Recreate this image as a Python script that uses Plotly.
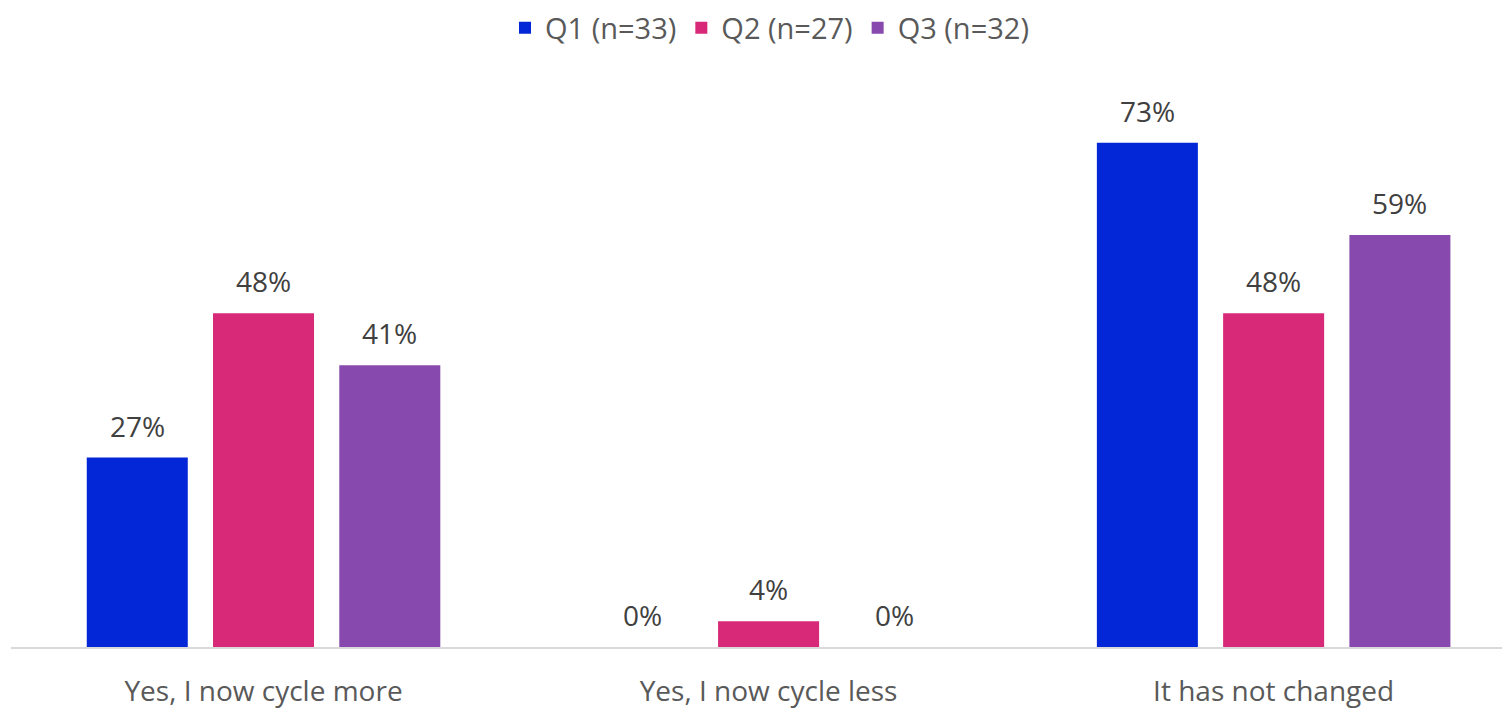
import plotly.graph_objects as go

categories = ["Yes, I now cycle more", "Yes, I now cycle less", "It has not changed"]
series_names = ["Q1 (n=33)", "Q2 (n=27)", "Q3 (n=32)"]
q1 = [27.3, 0, 72.7]
q2 = [48.1, 3.7, 48.1]
q3 = [40.6, 0, 59.4]
colors = ["#0327D6", "#D82878", "#8849AE"]
series_values = [q1, q2, q3]

FONT = "Open Sans"
BODY = 8            # default page margin around the plot div
W, H = 1510 - BODY, 709 - BODY
L, R, T, B = 3, 0, 84, 57
BARGAP = 0.25
XRANGE = [-0.5, 2.468]

fig = go.Figure()
for name, vals, col in zip(series_names, series_values, colors):
    fig.add_trace(go.Bar(
        x=categories, y=vals, name=name,
        marker=dict(color=col, line=dict(width=0)),
        hovertemplate="%{x}: %{y:.0f}%<extra>" + name + "</extra>",
    ))

# value labels above each bar
plot_w = W - L - R
cat_px = plot_w / (XRANGE[1] - XRANGE[0])
slot_px = cat_px * (1 - BARGAP) / len(series_values)
for si, vals in enumerate(series_values):
    shift = (si - (len(series_values) - 1) / 2) * slot_px
    for ci, v in enumerate(vals):
        fig.add_annotation(
            x=categories[ci], y=v, xref="x", yref="y",
            text=f"{v:.0f}%", showarrow=False, xshift=shift, yshift=11,
            yanchor="bottom", xanchor="center",
            font=dict(family=FONT, size=28, color="#404040"),
        )

fig.update_layout(
    width=W, height=H,
    margin=dict(l=L, r=R, t=T, b=B),
    barmode="group", bargap=BARGAP, bargroupgap=0.2,
    plot_bgcolor="white", paper_bgcolor="white",
    font=dict(family=FONT, size=28, color="#595959"),
    legend=dict(orientation="h", x=0.507, xanchor="center", xref="container",
                y=1 - 20 / H, yanchor="middle", yref="container",
                font=dict(family=FONT, size=29, color="#595959"),
                itemwidth=30, tracegroupgap=0),
    showlegend=True,
)
fig.update_xaxes(range=XRANGE, showline=True, linecolor="#D9D9D9", linewidth=2,
                 ticks="", ticklabelstandoff=18,
                 tickfont=dict(family=FONT, size=28, color="#595959"))
fig.update_yaxes(range=[0, 80], visible=False, showgrid=False, zeroline=False)

fig.write_html("out.html")
